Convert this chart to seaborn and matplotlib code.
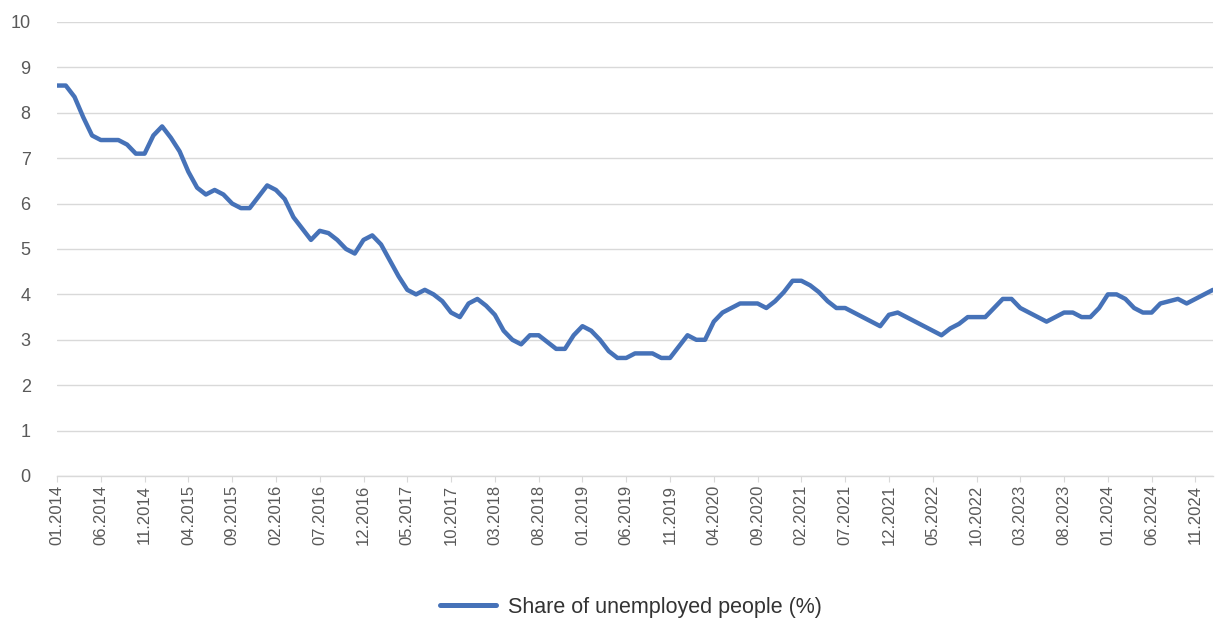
import numpy as np
import pandas as pd
import matplotlib
matplotlib.use("Agg")
import matplotlib.pyplot as plt
import seaborn as sns

# Monthly share of unemployed people, 01.2014 - 01.2025
start_month = "2014-01"
unemployment = [
    8.6, 8.6, 8.35, 7.9, 7.5, 7.4, 7.4, 7.4, 7.3, 7.1, 7.1, 7.5,
    7.7, 7.45, 7.15, 6.7, 6.35, 6.2, 6.3, 6.2, 6.0, 5.9, 5.9, 6.15,
    6.4, 6.3, 6.1, 5.7, 5.45, 5.2, 5.4, 5.35, 5.2, 5.0, 4.9, 5.2,
    5.3, 5.1, 4.75, 4.4, 4.1, 4.0, 4.1, 4.0, 3.85, 3.6, 3.5, 3.8,
    3.9, 3.75, 3.55, 3.2, 3.0, 2.9, 3.1, 3.1, 2.95, 2.8, 2.8, 3.1,
    3.3, 3.2, 3.0, 2.75, 2.6, 2.6, 2.7, 2.7, 2.7, 2.6, 2.6, 2.85,
    3.1, 3.0, 3.0, 3.4, 3.6, 3.7, 3.8, 3.8, 3.8, 3.7, 3.85, 4.05,
    4.3, 4.3, 4.2, 4.05, 3.85, 3.7, 3.7, 3.6, 3.5, 3.4, 3.3, 3.55,
    3.6, 3.5, 3.4, 3.3, 3.2, 3.1, 3.25, 3.35, 3.5, 3.5, 3.5, 3.7,
    3.9, 3.9, 3.7, 3.6, 3.5, 3.4, 3.5, 3.6, 3.6, 3.5, 3.5, 3.7,
    4.0, 4.0, 3.9, 3.7, 3.6, 3.6, 3.8, 3.85, 3.9, 3.8, 3.9, 4.0,
    4.1,
]
series_label = "Share of unemployed people (%)"
y_ticks = [0, 1, 2, 3, 4, 5, 6, 7, 8, 9, 10]
tick_every = 5  # one label every five months

months = pd.date_range(start_month, periods=len(unemployment), freq="MS")
df = pd.DataFrame({
    "idx": np.arange(len(unemployment)),
    "month": months.strftime("%m.%Y"),
    "value": unemployment,
})

sns.set_theme(style="white")
plt.rcParams["font.family"] = ["Liberation Sans", "DejaVu Sans"]

fig = plt.figure(figsize=(12.21, 6.21), dpi=100)
ax = fig.add_axes([0.0467, 0.2335, 0.9467, 0.7311])

line_color = "#4672b8"
sns.lineplot(data=df, x="idx", y="value", ax=ax, color=line_color,
             linewidth=3.2, label=series_label, solid_joinstyle="round",
             solid_capstyle="round")

ax.set_xlim(0, len(unemployment) - 1)
ax.set_ylim(0, 10)
ax.set_yticks(y_ticks)
ax.set_yticklabels([str(t) for t in y_ticks])
ax.yaxis.grid(True, color="#d9d9d9", linewidth=1.0)
ax.xaxis.grid(False)
ax.set_axisbelow(True)

tick_pos = df["idx"].iloc[::tick_every]
ax.set_xticks(tick_pos)
ax.set_xticklabels(df["month"].iloc[::tick_every], rotation=90)

for side in ["left", "right", "top"]:
    ax.spines[side].set_visible(False)
ax.spines["bottom"].set_color("#d9d9d9")
ax.spines["bottom"].set_linewidth(1.0)

ax.tick_params(axis="y", length=0, pad=19, labelsize=13, labelcolor="#595959")
ax.tick_params(axis="x", length=4, width=0.8, color="#d9d9d9", pad=2.5,
               labelsize=12, labelcolor="#595959", bottom=True)
ax.set_xlabel("")
ax.set_ylabel("")

ax.get_legend().remove()
handles, labels = ax.get_legend_handles_labels()
leg = fig.legend(handles, labels, loc="lower center", bbox_to_anchor=(0.517, -0.026),
                 frameon=False, fontsize=15.5, handlelength=2.6, handletextpad=0.55)
for t in leg.get_texts():
    t.set_color("#333333")
for h in leg.get_lines():
    h.set_linewidth(3.6)

fig.savefig("out.png", dpi=100, facecolor="white")
